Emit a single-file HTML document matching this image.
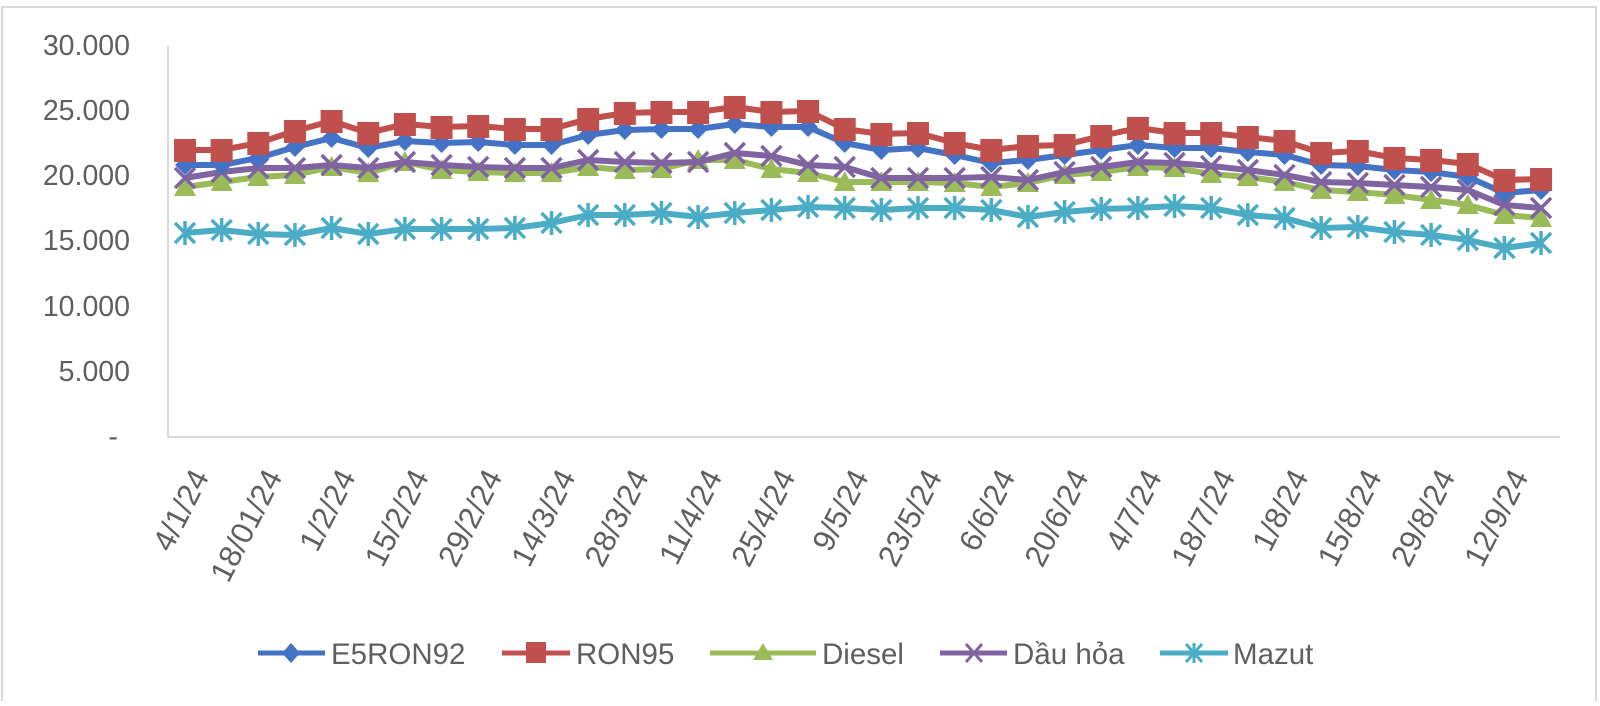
<!DOCTYPE html>
<html><head><meta charset="utf-8"><style>
html,body{margin:0;padding:0;background:#fff;}
body{width:1600px;height:701px;overflow:hidden;}
svg text{font-family:"Liberation Sans",Arial,sans-serif;fill:#5f5f5f;}
</style></head><body>
<svg id="c" width="1600" height="701" xmlns="http://www.w3.org/2000/svg">
<rect x="2" y="7" width="1594" height="700" fill="#fff" stroke="#d9d9d9" stroke-width="2"/>
<line x1="168" y1="46" x2="168" y2="437" stroke="#d9d9d9" stroke-width="2"/>
<line x1="168" y1="437" x2="1560" y2="437" stroke="#d9d9d9" stroke-width="2"/>
<g font-size="28.5" text-anchor="end">
<text x="130" y="55">30.000</text>
<text x="130" y="120">25.000</text>
<text x="130" y="185">20.000</text>
<text x="130" y="250">15.000</text>
<text x="130" y="316">10.000</text>
<text x="130" y="381">5.000</text>
<text x="118" y="446">-</text>
</g>
<g id="xl" font-size="31" text-anchor="end"></g>
<g id="series"></g>
<g font-size="29.5">
<line x1="258" y1="653" x2="325" y2="653" stroke="#4472c4" stroke-width="5"/>
<path d="M291 643 L300 653 L291 663 L282 653Z" fill="#4472c4"/>
<text x="331" y="664">E5RON92</text>
<line x1="502" y1="653" x2="570" y2="653" stroke="#c0504d" stroke-width="5"/>
<rect x="526" y="642" width="20" height="21" fill="#c0504d"/>
<text x="576" y="664">RON95</text>
<line x1="710" y1="653" x2="816" y2="653" stroke="#9bbb59" stroke-width="5"/>
<path d="M763 643 L773 660 L753 660Z" fill="#9bbb59"/>
<text x="822" y="664">Diesel</text>
<line x1="940" y1="653" x2="1007" y2="653" stroke="#8064a2" stroke-width="5"/>
<path d="M966 644 L982 662 M982 644 L966 662" stroke="#8064a2" stroke-width="3"/>
<text x="1013" y="664">Dầu hỏa</text>
<line x1="1160" y1="653" x2="1228" y2="653" stroke="#4bacc6" stroke-width="5"/>
<path d="M1186 644 L1202 662 M1202 644 L1186 662 M1194 643 L1194 663" stroke="#4bacc6" stroke-width="3"/>
<text x="1233" y="664">Mazut</text>
</g>
</svg>
<script>
var NS="http://www.w3.org/2000/svg";
function X(i){return 185+i*36.65;}
var labels=["4/1/24","18/01/24","1/2/24","15/2/24","29/2/24","14/3/24","28/3/24","11/4/24","25/4/24","9/5/24","23/5/24","6/6/24","20/6/24","4/7/24","18/7/24","1/8/24","15/8/24","29/8/24","12/9/24"];
var xl=document.getElementById("xl");
labels.forEach(function(l,k){var x=X(k*2)+4,y=466;var t=document.createElementNS(NS,"text");t.setAttribute("x",x);t.setAttribute("y",y);t.setAttribute("transform","rotate(-63 "+x+" "+y+")");t.setAttribute("dy","0.75em");t.textContent=l;xl.appendChild(t);});
var S=[
{c:"#4bacc6",m:"ast",y:[233,230,234,235,228,234,229,229,229,228,223,215,215,213,217,213,210,207,208,210,208,208,210,217,212,209,208,206,208,215,218,228,227,232,235,240,248,243]},
{c:"#9bbb59",m:"tri",y:[187,182,177,175,167,173,162,170,172,173,173,167,170,169,160,160,169,173,182,182,182,183,187,183,175,172,167,168,174,177,182,190,192,195,200,205,215,218]},
{c:"#8064a2",m:"x",y:[178,172,168,168,165,168,162,165,167,168,168,160,162,163,162,153,156,165,167,178,178,178,177,180,172,167,162,163,166,170,175,182,183,185,187,190,205,208]},
{c:"#4472c4",m:"dia",y:[165,165,158,147,138,148,141,143,142,145,145,135,130,129,129,124,127,127,143,150,148,155,163,160,155,150,145,148,148,152,155,165,166,170,172,177,193,190]},
{c:"#c0504d",m:"sq",y:[150,150,143,131,121,133,124,127,126,129,129,119,113,112,112,107,112,111,129,134,133,143,150,146,145,136,128,133,133,137,141,153,151,158,160,164,180,179]}
];
var g=document.getElementById("series");
function el(n,a){var e=document.createElementNS(NS,n);for(var k in a)e.setAttribute(k,a[k]);g.appendChild(e);return e;}
S.forEach(function(s){
 var pts=s.y.map(function(y,i){return X(i).toFixed(1)+","+y;}).join(" ");
 el("polyline",{points:pts,fill:"none",stroke:s.c,"stroke-width":6,"stroke-linejoin":"round"});
 s.y.forEach(function(y,i){var x=X(i);
  if(s.m=="sq")el("rect",{x:x-11,y:y-11,width:22,height:23,fill:s.c});
  else if(s.m=="dia")el("path",{d:"M"+x+" "+(y-10)+"L"+(x+10)+" "+y+"L"+x+" "+(y+10)+"L"+(x-10)+" "+y+"Z",fill:s.c});
  else if(s.m=="tri")el("path",{d:"M"+x+" "+(y-11)+"L"+(x+11)+" "+(y+9)+"L"+(x-11)+" "+(y+9)+"Z",fill:s.c});
  else if(s.m=="x")el("path",{d:"M"+(x-10)+" "+(y-10)+"L"+(x+10)+" "+(y+10)+"M"+(x+10)+" "+(y-10)+"L"+(x-10)+" "+(y+10),stroke:s.c,"stroke-width":3.5});
  else el("path",{d:"M"+(x-10)+" "+(y-10)+"L"+(x+10)+" "+(y+10)+"M"+(x+10)+" "+(y-10)+"L"+(x-10)+" "+(y+10)+"M"+x+" "+(y-12)+"L"+x+" "+(y+12),stroke:s.c,"stroke-width":3.5});
 });
});
</script>
</body></html>
